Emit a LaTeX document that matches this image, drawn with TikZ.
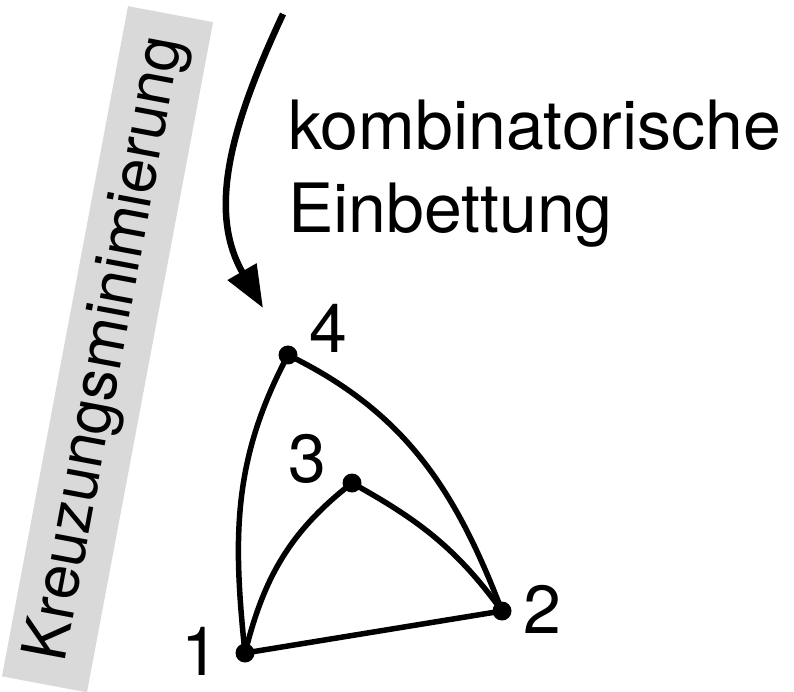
\documentclass[tikz,border=0pt]{standalone}
\usepackage{fontspec}
\setmainfont{TeX Gyre Heros}
\usetikzlibrary{arrows.meta}
\begin{document}
\begin{tikzpicture}[x=1pt,y=1pt,
  vtx/.style={circle,fill=black,inner sep=0pt,minimum size=19pt},
  edge/.style={line width=5.5pt},
  lbl/.style={anchor=base,inner sep=0pt,font=\fontsize{68}{80}\selectfont},
  txt/.style={anchor=base west,inner sep=0pt,font=\fontsize{68}{80}\selectfont}]
\useasboundingbox (0,0) rectangle (794,691);
% gray rotated box
\node[rotate=79.35,fill=black!15,minimum width=682pt,minimum height=86.5pt,inner sep=0pt,
      font=\fontsize{62}{70}\selectfont] (box) at (107.5,341.75) {Kreuzungsminimierung};
% arrow
\coordinate (astart) at (283,677);
\coordinate (aend) at (263,383);
\draw[line width=6.5pt,-{Triangle[length=42pt,width=32pt]}] (astart) to[out=245,in=120] (aend);
% text
\node[txt] (t1) at (288,541) {kombinatorische};
\node[txt] (t2) at (288,458) {Einbettung};
% vertices
\node[vtx] (v1) at (245,38) {};
\node[vtx] (v2) at (502,80) {};
\node[vtx] (v3) at (352,208) {};
\node[vtx] (v4) at (288,336) {};
% edges
\draw[edge] (v1.center) -- (v2.center);
\draw[edge] (v1.center) to[out=96,in=242] (v4.center);
\draw[edge] (v4.center) to[out=-26,in=111] (v2.center);
\draw[edge] (v1.center) to[out=76,in=218] (v3.center);
\draw[edge] (v3.center) to[out=-29,in=126] (v2.center);
% labels
\node[lbl] (l1) at (200,16) {1};
\node[lbl] (l2) at (542,58) {2};
\node[lbl] (l3) at (307,209) {3};
\node[lbl] (l4) at (328,338) {4};
\end{tikzpicture}
\end{document}
